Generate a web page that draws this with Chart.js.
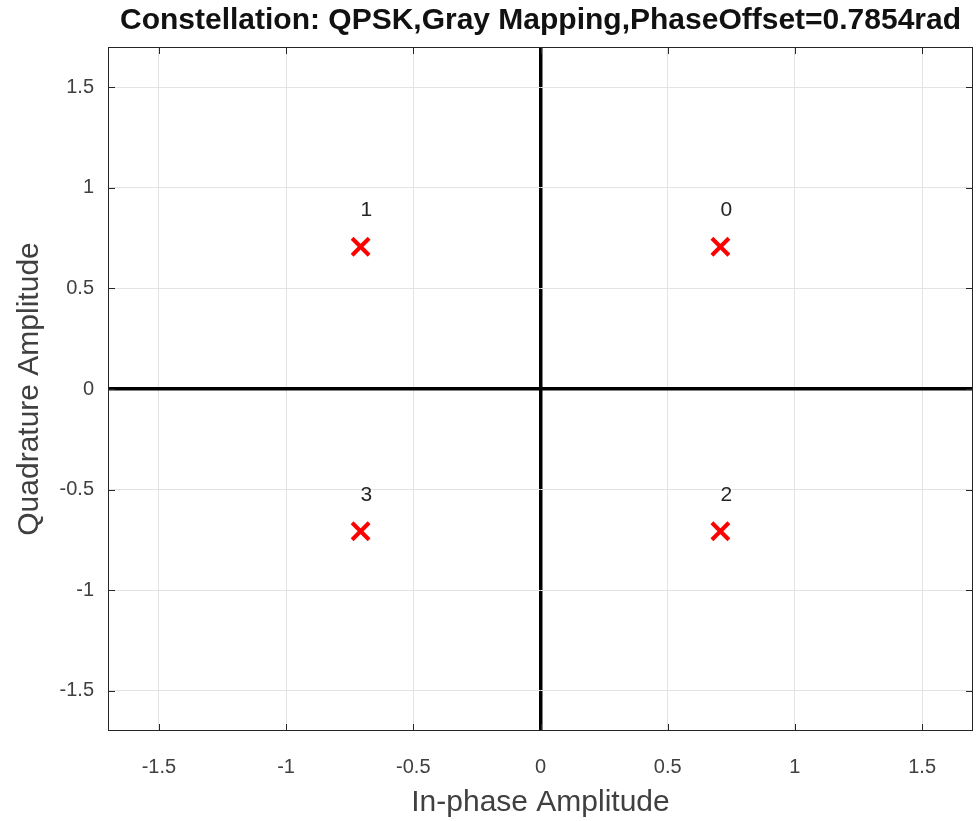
<!DOCTYPE html>
<html lang="en">
<head>
<meta charset="UTF-8">
<title>QPSK constellation</title>
<script src="https://cdn.jsdelivr.net/npm/chart.js@4.4.1/dist/chart.umd.min.js"></script>
<style>
  html, body { margin: 0; padding: 0; background: #fff; overflow: hidden; }
  #wrap { width: 976px; height: 821px; }
</style>
</head>
<body>
<div id="wrap"><canvas id="chart" width="976" height="821"></canvas></div>
<script>
// constellation points (in-phase, quadrature) and their symbol labels
const symbols = ['0', '1', '2', '3'];
const inPhase = [0.7071, -0.7071, 0.7071, -0.7071];
const quadrature = [0.7071, 0.7071, -0.7071, -0.7071];
const xTicks = [-1.5, -1, -0.5, 0, 0.5, 1, 1.5];
const yTicks = [-1.5, -1, -0.5, 0, 0.5, 1, 1.5];
const axisMin = -1.7, axisMax = 1.7;

const titleText = 'Constellation: QPSK,Gray Mapping,PhaseOffset=0.7854rad';
const textGrey = '#404040';
const fontFam = '"Liberation Sans", Arial, sans-serif';

const points = inPhase.map((x, i) => ({ x: x, y: quadrature[i] }));

// box, inward ticks, title and symbol labels
const extras = {
  id: 'extras',
  afterDatasetsDraw(chart) {
    const { ctx, chartArea: a, scales } = chart;
    ctx.save();
    ctx.strokeStyle = '#262626';
    ctx.lineWidth = 1;
    ctx.strokeRect(a.left + 0.5, a.top + 0.5, a.right - a.left - 1, a.bottom - a.top - 1);
    ctx.beginPath();
    xTicks.forEach(v => {
      const px = Math.round(scales.x.getPixelForValue(v)) + 0.5;
      ctx.moveTo(px, a.bottom); ctx.lineTo(px, a.bottom - 7);
      ctx.moveTo(px, a.top); ctx.lineTo(px, a.top + 7);
    });
    yTicks.forEach(v => {
      const py = Math.round(scales.y.getPixelForValue(v)) + 0.5;
      ctx.moveTo(a.left, py); ctx.lineTo(a.left + 7, py);
      ctx.moveTo(a.right, py); ctx.lineTo(a.right - 7, py);
    });
    ctx.stroke();

    ctx.fillStyle = '#111';
    ctx.font = 'bold 30px ' + fontFam;
    ctx.textAlign = 'center';
    ctx.textBaseline = 'middle';
    ctx.fillText(titleText, (a.left + a.right) / 2, 21);

    ctx.fillStyle = '#262626';
    ctx.font = '21px ' + fontFam;
    ctx.textAlign = 'left';
    symbols.forEach((s, i) => {
      const px = scales.x.getPixelForValue(inPhase[i]);
      const py = scales.y.getPixelForValue(quadrature[i] + 0.18);
      ctx.fillText(s, px, py);
    });
    ctx.restore();
  }
};

function gridColor(c) { return c.tick && c.tick.value === 0 ? '#000' : '#e3e3e3'; }
function gridWidth(c) { return c.tick && c.tick.value === 0 ? 3.5 : 1; }

new Chart(document.getElementById('chart'), {
  type: 'scatter',
  data: {
    datasets: [{
      data: points,
      pointStyle: 'crossRot',
      pointRadius: 12,
      pointHoverRadius: 12,
      borderColor: '#ff0000',
      backgroundColor: '#ff0000',
      borderWidth: 4,
      pointBorderWidth: 4
    }]
  },
  options: {
    responsive: false,
    animation: false,
    layout: { autoPadding: false, padding: { top: 47, right: 3, left: 0, bottom: 0 } },
    plugins: { legend: { display: false }, tooltip: { enabled: false }, title: { display: false } },
    scales: {
      x: {
        type: 'linear',
        min: axisMin,
        max: axisMax,
        afterBuildTicks: s => { s.ticks = xTicks.map(v => ({ value: v })); },
        afterFit: s => { s.height = 90; },
        grid: { color: gridColor, lineWidth: gridWidth, drawTicks: false },
        border: { display: false },
        ticks: {
          padding: 24,
          color: textGrey,
          font: { family: fontFam, size: 20 },
          maxRotation: 0,
          callback: v => String(v)
        },
        title: {
          display: true,
          text: 'In-phase Amplitude',
          color: textGrey,
          font: { family: fontFam, size: 30 },
          padding: { top: 3, bottom: 0 }
        }
      },
      y: {
        type: 'linear',
        min: axisMin,
        max: axisMax,
        afterBuildTicks: s => { s.ticks = yTicks.map(v => ({ value: v })); },
        afterFit: s => { s.width = 108; },
        grid: { color: gridColor, lineWidth: gridWidth, drawTicks: false },
        border: { display: false },
        ticks: {
          padding: 14,
          color: textGrey,
          font: { family: fontFam, size: 20 },
          callback: v => String(v)
        },
        title: {
          display: true,
          text: 'Quadrature Amplitude',
          color: textGrey,
          font: { family: fontFam, size: 30 },
          padding: { top: 12, bottom: 0 }
        }
      }
    }
  },
  plugins: [extras]
});
</script>
</body>
</html>
